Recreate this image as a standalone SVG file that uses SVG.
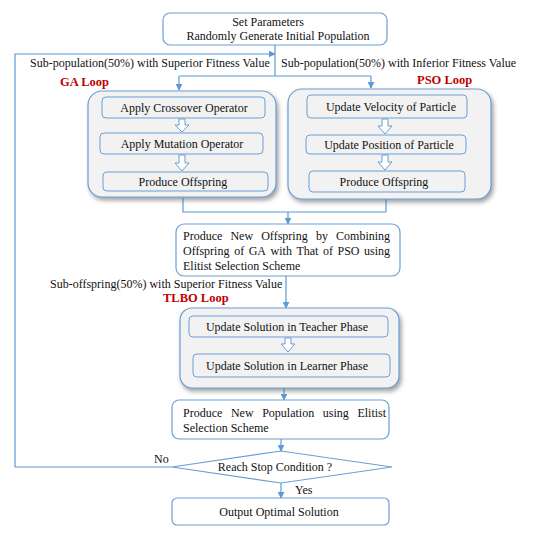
<svg xmlns="http://www.w3.org/2000/svg" width="535" height="536" viewBox="0 0 535 536" font-family="Liberation Serif, DejaVu Serif, serif">
<defs>
<style>
text{font-family:'Liberation Serif','DejaVu Serif',serif}
.t{font-size:12px;fill:#111}
.c{text-anchor:middle}
.red{font-size:12.5px;font-weight:bold;fill:#c00000}
.box{fill:#fff;stroke:#6a9fd6;stroke-width:1.2}
.outer{fill:#f2f2f2;stroke:#6a9fd6;stroke-width:1.2;filter:url(#sh)}
.inner{fill:#f2f2f2;stroke:#6a9fd6;stroke-width:1}
.ln{fill:none;stroke:#5b9bd5;stroke-width:1.2}
.ha{fill:#fff;stroke:#6a9fd6;stroke-width:1}
</style>
<marker id="ar" viewBox="0 0 10 10" refX="9" refY="5" markerWidth="7" markerHeight="7" orient="auto" markerUnits="userSpaceOnUse">
<path d="M0,0 L10,5 L0,10 z" fill="#5b9bd5"/>
</marker>
<filter id="sh" x="-10%" y="-10%" width="125%" height="130%">
<feDropShadow dx="2" dy="3" stdDeviation="2.2" flood-color="#555" flood-opacity="0.55"/>
</filter>
</defs>
<rect width="535" height="536" fill="#fff"/>

<g id="connectors">
<polyline class="ln" points="275,45 275,76"/>
<polyline class="ln" points="179,76 371,76"/>
<line class="ln" x1="179" y1="76" x2="179" y2="90" marker-end="url(#ar)"/>
<line class="ln" x1="371" y1="76" x2="371" y2="88" marker-end="url(#ar)"/>
<polyline class="ln" points="172,467 15,467 15,54 275,54" marker-end="url(#ar)"/>
<polyline class="ln" points="183,198 183,212 386,212 386,199"/>
<line class="ln" x1="288" y1="212" x2="288" y2="224" marker-end="url(#ar)"/>
<line class="ln" x1="286" y1="276" x2="286" y2="308" marker-end="url(#ar)"/>
<line class="ln" x1="284" y1="388" x2="284" y2="400" marker-end="url(#ar)"/>
<line class="ln" x1="281" y1="439" x2="281" y2="451" marker-end="url(#ar)"/>
<line class="ln" x1="281" y1="483" x2="281" y2="498" marker-end="url(#ar)"/>
</g>

<g id="labels">
<text class="t" x="30" y="67">Sub-population(50%) with Superior Fitness Value</text>
<text class="t" x="281" y="67">Sub-population(50%) with Inferior Fitness Value</text>
<text class="red" x="60" y="86">GA Loop</text>
<text class="red" x="417" y="84">PSO Loop</text>
<text class="t" x="50" y="288">Sub-offspring(50%) with Superior Fitness Value</text>
<text class="red" x="163" y="302">TLBO Loop</text>
<text class="t" x="154" y="463">No</text>
<text class="t" x="295" y="494">Yes</text>
</g>

<g id="start">
<rect class="box" x="163" y="13" width="224" height="32" rx="7"/>
<text class="t c" x="268" y="26">Set Parameters</text>
<text class="t c" x="278" y="40">Randomly Generate Initial Population</text>
</g>

<g id="ga-loop">
<rect class="outer" x="88" y="91" width="188" height="106" rx="14"/>
<g id="ga-crossover"><rect class="inner" x="102" y="97" width="163" height="21" rx="4"/><text class="t c" x="184" y="111.5">Apply Crossover Operator</text></g>
<polygon class="ha" points="179,119 185,119 185,125 189,125 182,132 175,125 179,125"/>
<g id="ga-mutation"><rect class="inner" x="100" y="133" width="163" height="21" rx="4"/><text class="t c" x="182" y="147.5">Apply Mutation Operator</text></g>
<polygon class="ha" points="179,155 185,155 185,163 189,163 182,171 175,163 179,163"/>
<g id="ga-offspring"><rect class="inner" x="103" y="172" width="165" height="19" rx="4"/><text class="t c" x="183" y="185.5">Produce Offspring</text></g>
</g>

<g id="pso-loop">
<rect class="outer" x="288" y="89" width="203" height="110" rx="14"/>
<g id="pso-velocity"><rect class="inner" x="307" y="95" width="160" height="23" rx="4"/><text class="t c" x="391" y="110.5">Update Velocity of Particle</text></g>
<polygon class="ha" points="382,119 388,119 388,126 392,126 385,134 378,126 382,126"/>
<g id="pso-position"><rect class="inner" x="306" y="135" width="160" height="19" rx="4"/><text class="t c" x="389" y="148.5">Update Position of Particle</text></g>
<polygon class="ha" points="382,155 388,155 388,162 392,162 385,170 378,162 382,162"/>
<g id="pso-offspring"><rect class="inner" x="309" y="171" width="156" height="21" rx="4"/><text class="t c" x="384" y="185.5">Produce Offspring</text></g>
</g>

<g id="combine">
<rect class="box" x="176" y="224" width="224" height="52" rx="8"/>
<text class="t" y="240"><tspan x="183">Produce </tspan><tspan x="230.4">New </tspan><tspan x="261.2">Offspring </tspan><tspan x="316">by </tspan><tspan x="336.1">Combining</tspan></text>
<text class="t" y="255"><tspan x="183">Offspring </tspan><tspan x="234.2">of </tspan><tspan x="248.7">GA </tspan><tspan x="270.6">with </tspan><tspan x="296.4">That </tspan><tspan x="323">of </tspan><tspan x="337.5">PSO </tspan><tspan x="364">using</tspan></text>
<text class="t" x="183" y="270">Elitist Selection Scheme</text>
</g>

<g id="tlbo-loop">
<rect class="outer" x="180" y="308" width="219" height="80" rx="12"/>
<g id="tlbo-teacher"><rect class="inner" x="189" y="316" width="199" height="21" rx="4"/><text class="t c" x="287" y="330.5">Update Solution in Teacher Phase</text></g>
<polygon class="ha" points="285,338 291,338 291,344 295,344 288,352 281,344 285,344"/>
<g id="tlbo-learner"><rect class="inner" x="193" y="354" width="197" height="23" rx="4"/><text class="t c" x="287" y="369.5">Update Solution in Learner Phase</text></g>
</g>

<g id="new-population">
<rect class="box" x="172" y="400" width="217" height="39" rx="7"/>
<text class="t" y="417"><tspan x="183">Produce </tspan><tspan x="230.9">New </tspan><tspan x="262.2">Population </tspan><tspan x="322.8">using </tspan><tspan x="357.4">Elitist</tspan></text>
<text class="t" x="183" y="432">Selection Scheme</text>
</g>

<g id="stop-condition">
<polygon class="box" points="172,467 281,451 392,467 281,483"/>
<text class="t c" x="275" y="471">Reach Stop Condition ?</text>
</g>

<g id="output">
<rect class="box" x="172" y="498" width="217" height="27" rx="5"/>
<text class="t c" x="279" y="516">Output Optimal Solution</text>
</g>
</svg>
